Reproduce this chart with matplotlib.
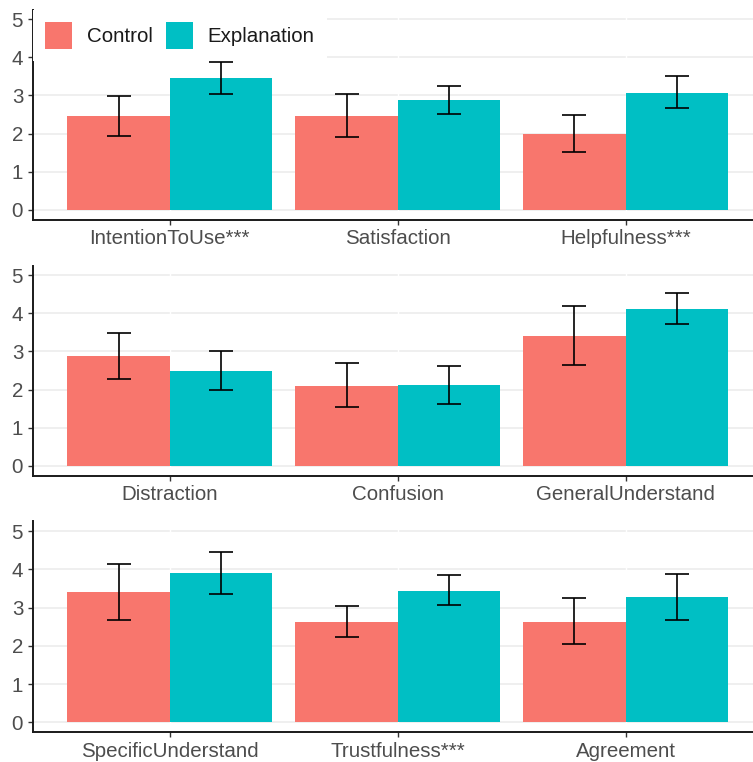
import numpy as np
import matplotlib
matplotlib.use('Agg')
from matplotlib import pyplot as plt
from matplotlib.patches import Patch

plt.rcParams['font.family'] = ['Liberation Sans', 'DejaVu Sans']

panels = [['IntentionToUse***', 'Satisfaction', 'Helpfulness***'],
          ['Distraction', 'Confusion', 'GeneralUnderstand'],
          ['SpecificUnderstand', 'Trustfulness***', 'Agreement']]

control_mean = [2.47, 2.47, 2.00, 2.87, 2.09, 3.41, 3.40, 2.63, 2.63]
control_lo = [1.95, 1.90, 1.52, 2.28, 1.54, 2.64, 2.67, 2.24, 2.04]
control_hi = [2.99, 3.05, 2.49, 3.47, 2.69, 4.18, 4.13, 3.05, 3.24]

expl_mean = [3.45, 2.88, 3.07, 2.50, 2.13, 4.12, 3.90, 3.43, 3.27]
expl_lo = [3.05, 2.52, 2.68, 1.98, 1.63, 3.72, 3.35, 3.06, 2.68]
expl_hi = [3.87, 3.24, 3.50, 3.01, 2.61, 4.52, 4.46, 3.84, 3.88]

yticks = [0, 1, 2, 3, 4, 5]

c_ctrl = '#F8766D'
c_expl = '#00BFC4'

W, H = 753, 762
fig = plt.figure(figsize=(W / 100, H / 100), dpi=100)

# panel boxes in pixels (top, bottom)
boxes = [(9.5, 219.5), (265.5, 475.5), (521.5, 732)]
left_px = 33
fs = 14.8

for p in range(3):
    top, bot = boxes[p]
    ax = fig.add_axes([left_px / W, 1 - bot / H, (W - left_px) / W, (bot - top) / H])
    x = np.arange(1, 4)
    sl = slice(p * 3, p * 3 + 3)
    cm = np.array(control_mean[sl]); em = np.array(expl_mean[sl])
    cl = np.array(control_lo[sl]); ch = np.array(control_hi[sl])
    el = np.array(expl_lo[sl]); eh = np.array(expl_hi[sl])

    for t in yticks:
        ax.axhline(t, color='#EBEBEB', lw=1.1, zorder=0.3)
    for xi in x:
        ax.axvline(xi, color='white', lw=1.0, zorder=0.4)

    ax.bar(x - 0.225, cm, 0.45, color=c_ctrl, zorder=2)
    ax.bar(x + 0.225, em, 0.45, color=c_expl, zorder=2)
    ax.errorbar(x - 0.225, cm, yerr=[cm - cl, ch - cm], fmt='none', ecolor='black',
                elinewidth=1.2, capsize=8.3, capthick=1.2, zorder=3)
    ax.errorbar(x + 0.225, em, yerr=[em - el, eh - em], fmt='none', ecolor='black',
                elinewidth=1.2, capsize=8.3, capthick=1.2, zorder=3)

    ax.set_xlim(0.4, 0.4 + (W - left_px) / 228)
    ax.set_ylim(-0.25, 5.25)
    ax.set_yticks(yticks)
    ax.set_xticks(x)
    ax.set_xticklabels(panels[p])
    for s in ['top', 'right']:
        ax.spines[s].set_visible(False)
    for s in ['left', 'bottom']:
        ax.spines[s].set_linewidth(1.4)
        ax.spines[s].set_color('#1a1a1a')
    ax.tick_params(length=3.6, width=1.0, color='#333333', labelcolor='#4D4D4D',
                   labelsize=fs, pad=3.5)

    if p == 0:
        handles = [Patch(facecolor=c_ctrl, edgecolor='none', label='Control'),
                   Patch(facecolor=c_expl, edgecolor='none', label='Explanation')]
        leg = ax.legend(handles=handles, loc='upper left', bbox_to_anchor=(0, 1),
                        ncol=2, fontsize=fs, handlelength=1.32, handleheight=1.65,
                        handletextpad=0.73, columnspacing=0.6, borderpad=0.6,
                        borderaxespad=0, frameon=True, fancybox=False,
                        facecolor='white', edgecolor='none', framealpha=1)
        leg.set_zorder(5)
        for t in leg.get_texts():
            t.set_color('#1a1a1a')

plt.savefig('out.png', dpi=100)
